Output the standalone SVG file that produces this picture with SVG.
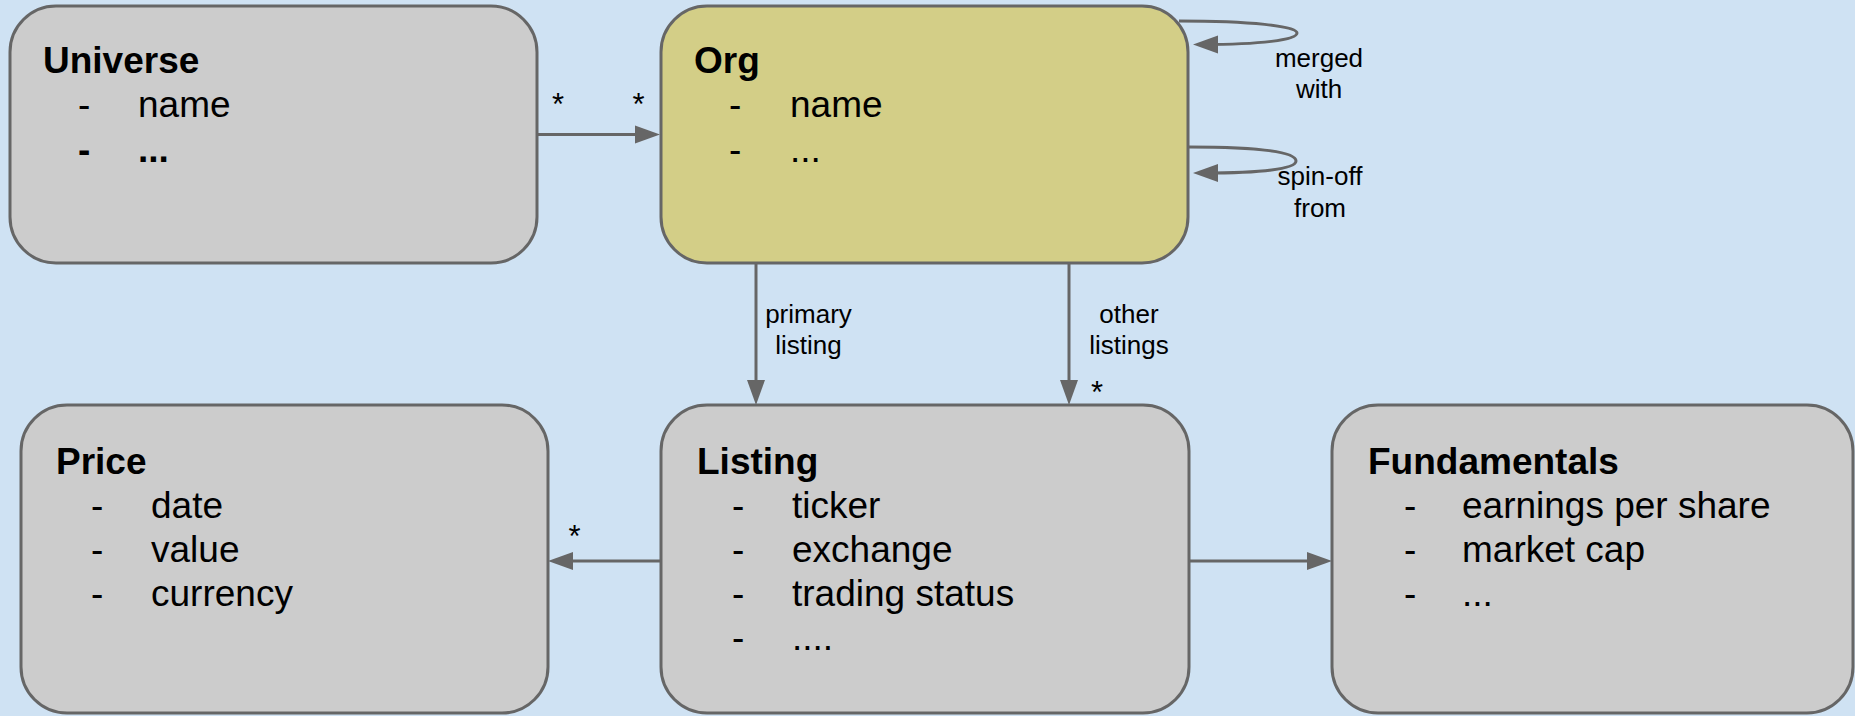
<svg xmlns="http://www.w3.org/2000/svg" width="1855" height="716" viewBox="0 0 1855 716">
<style>
.box{fill:#cccccc;stroke:#666666;stroke-width:3}
.org{fill:#d3ce87}
.t{font-family:"Liberation Sans",Arial,sans-serif;font-size:37px;fill:#000}
.b{font-weight:bold}
.lbl{font-family:"Liberation Sans",Arial,sans-serif;font-size:26px;fill:#000}
.star{font-family:"Liberation Sans",Arial,sans-serif;font-size:31px;fill:#000}
.c{fill:none;stroke:#666666;stroke-width:3}
</style>
<defs>
<marker id="ah" markerUnits="userSpaceOnUse" markerWidth="26" markerHeight="20" viewBox="0 0 26 20" refX="15" refY="9.5" orient="auto">
<path d="M0,0.5 L25,9.5 L0,18.5 z" fill="#666666"/>
</marker>
</defs>
<rect width="1855" height="716" fill="#cfe2f3"/>
<g id="connectors">
<line class="c" x1="538" y1="134.5" x2="650" y2="134.5" marker-end="url(#ah)"/>
<path class="c" d="M1179,21 C1250,21 1297,26 1297,33 C1297,40 1260,44.5 1203,44.5" marker-end="url(#ah)"/>
<path class="c" d="M1189,147 C1260,147 1296,152 1296,161 C1296,169 1262,173 1203,173" marker-end="url(#ah)"/>
<line class="c" x1="756" y1="263" x2="756" y2="395" marker-end="url(#ah)"/>
<line class="c" x1="1069" y1="263" x2="1069" y2="395" marker-end="url(#ah)"/>
<line class="c" x1="661" y1="561" x2="558" y2="561" marker-end="url(#ah)"/>
<line class="c" x1="1189" y1="561" x2="1322" y2="561" marker-end="url(#ah)"/>
<text class="star" x="558" y="115" text-anchor="middle">*</text>
<text class="star" x="638.5" y="115" text-anchor="middle">*</text>
<text class="lbl" x="1319" y="67" text-anchor="middle">merged</text>
<text class="lbl" x="1319" y="98" text-anchor="middle">with</text>
<text class="lbl" x="1320" y="185" text-anchor="middle">spin-off</text>
<text class="lbl" x="1320" y="217" text-anchor="middle">from</text>
<text class="lbl" x="808.5" y="323" text-anchor="middle">primary</text>
<text class="lbl" x="808.5" y="354" text-anchor="middle">listing</text>
<text class="lbl" x="1129" y="323" text-anchor="middle">other</text>
<text class="lbl" x="1129" y="354" text-anchor="middle">listings</text>
<text class="star" x="1097" y="403" text-anchor="middle">*</text>
<text class="star" x="574.5" y="547" text-anchor="middle">*</text>
</g>
<g id="universe">
<rect class="box" x="10" y="6" width="527" height="257" rx="46" ry="46"/>
<text class="t b" x="43" y="72.5">Universe</text>
<text class="t" x="78" y="117">-</text><text class="t" x="138" y="117">name</text>
<text class="t b" x="78" y="162">-</text><text class="t b" x="138" y="162">...</text>
</g>
<g id="org">
<rect class="box org" x="661" y="6" width="527" height="257" rx="46" ry="46"/>
<text class="t b" x="694" y="72.5">Org</text>
<text class="t" x="729" y="117">-</text><text class="t" x="790" y="117">name</text>
<text class="t" x="729" y="162">-</text><text class="t" x="790" y="162">...</text>
</g>
<g id="price">
<rect class="box" x="21" y="405" width="527" height="308" rx="46" ry="46"/>
<text class="t b" x="56" y="474">Price</text>
<text class="t" x="91" y="518">-</text><text class="t" x="151" y="518">date</text>
<text class="t" x="91" y="562">-</text><text class="t" x="151" y="562">value</text>
<text class="t" x="91" y="606">-</text><text class="t" x="151" y="606">currency</text>
</g>
<g id="listing">
<rect class="box" x="661" y="405" width="528" height="308" rx="46" ry="46"/>
<text class="t b" x="697" y="474">Listing</text>
<text class="t" x="732" y="518">-</text><text class="t" x="792" y="518">ticker</text>
<text class="t" x="732" y="562">-</text><text class="t" x="792" y="562">exchange</text>
<text class="t" x="732" y="606">-</text><text class="t" x="792" y="606">trading status</text>
<text class="t" x="732" y="650">-</text><text class="t" x="792" y="650">....</text>
</g>
<g id="fundamentals">
<rect class="box" x="1332" y="405" width="521" height="308" rx="46" ry="46"/>
<text class="t b" x="1368" y="474">Fundamentals</text>
<text class="t" x="1404" y="518">-</text><text class="t" x="1462" y="518">earnings per share</text>
<text class="t" x="1404" y="562">-</text><text class="t" x="1462" y="562">market cap</text>
<text class="t" x="1404" y="606">-</text><text class="t" x="1462" y="606">...</text>
</g>
</svg>
